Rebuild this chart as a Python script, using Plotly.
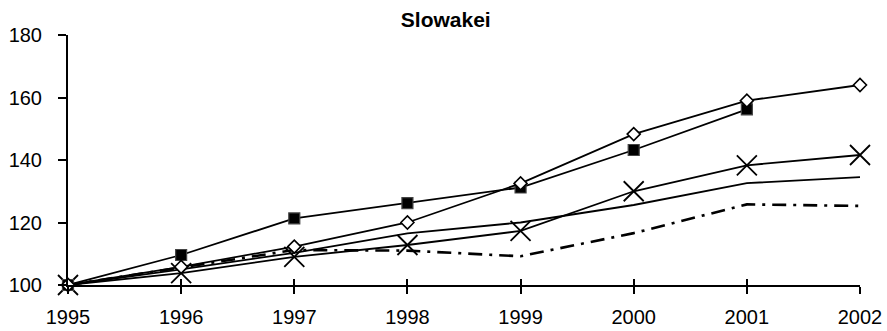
import plotly.graph_objects as go

years = [1995, 1996, 1997, 1998, 1999, 2000, 2001, 2002]

# Index series (1995 = 100)
diamond_vals = [100, 105.8, 112.3, 120.0, 132.5, 148.3, 159.0, 164.0]
square_vals = [100, 109.6, 121.3, 126.2, 131.2, 143.2, 156.2, None]
cross_vals = [100, 103.8, 109.0, 112.8, 117.3, 130.0, 138.3, 141.6]
plain_vals = [100, 105.0, 110.3, 116.5, 120.0, 125.6, 132.6, 134.5]
dashdot_vals = [100, 105.6, 111.2, 111.0, 109.2, 116.6, 125.8, 125.3]

y_ticks = [100, 120, 140, 160, 180]
x_ticks = years
title_text = "Slowakei"

FONT = "Liberation Sans, Arial, sans-serif"

fig = go.Figure()

fig.add_trace(go.Scatter(
    x=years, y=plain_vals, mode="lines",
    line=dict(color="black", width=1.8), cliponaxis=False, showlegend=False,
))
fig.add_trace(go.Scatter(
    x=years, y=dashdot_vals, mode="lines",
    line=dict(color="black", width=2.6, dash="14px,7px,3px,7px"),
    cliponaxis=False, showlegend=False,
))
fig.add_trace(go.Scatter(
    x=years, y=cross_vals, mode="lines+markers",
    line=dict(color="black", width=1.8),
    marker=dict(symbol="x-thin", size=20, line=dict(color="black", width=1.8)),
    cliponaxis=False, showlegend=False,
))
fig.add_trace(go.Scatter(
    x=years, y=square_vals, mode="lines+markers",
    line=dict(color="black", width=1.8),
    marker=dict(symbol="square", size=11, color="black",
                line=dict(color="#444444", width=1.2)),
    cliponaxis=False, showlegend=False,
))
fig.add_trace(go.Scatter(
    x=years, y=diamond_vals, mode="lines+markers",
    line=dict(color="black", width=1.8),
    marker=dict(symbol="diamond", size=10, color="white",
                line=dict(color="black", width=1.6)),
    cliponaxis=False, showlegend=False,
))
# carrier for the inner tick marks of the category axis
fig.add_trace(go.Scatter(x=[], y=[], xaxis="x2", yaxis="y", showlegend=False))

fig.update_layout(
    width=887, height=331,
    margin=dict(l=68, r=27, t=35, b=46),
    paper_bgcolor="white", plot_bgcolor="white",
    font=dict(family=FONT, size=20, color="black"),
    xaxis=dict(
        range=[1995, 2002], tickvals=x_ticks, ticktext=[str(v) for v in x_ticks],
        showgrid=False, zeroline=False, automargin=False,
        showline=True, linecolor="black", linewidth=2,
        ticks="outside", ticklen=7, tickwidth=1.5, tickcolor="black",
        ticklabelstandoff=6,
    ),
    xaxis2=dict(
        overlaying="x", anchor="y", side="bottom", automargin=False,
        range=[1995, 2002], tickvals=x_ticks, showticklabels=False,
        showgrid=False, zeroline=False, showline=False,
        ticks="inside", ticklen=6, tickwidth=1.5, tickcolor="black",
    ),
    yaxis=dict(
        range=[100, 180], tickvals=y_ticks, automargin=False,
        showgrid=False, zeroline=False,
        showline=True, linecolor="black", linewidth=2,
        ticks="outside", ticklen=8, tickwidth=1.5, tickcolor="black",
        ticklabelstandoff=12,
    ),
    title=dict(
        text="<b>" + title_text + "</b>",
        x=0.477, xref="paper", xanchor="center",
        y=1 - 20 / 331, yref="container", yanchor="middle",
        font=dict(family=FONT, size=21, color="black"),
    ),
)

fig.write_html("out.html")
